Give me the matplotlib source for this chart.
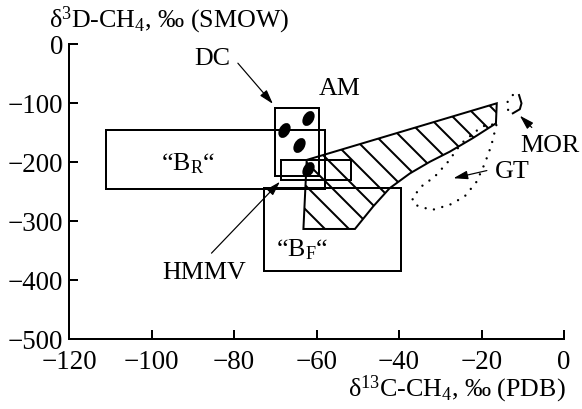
import matplotlib
matplotlib.use("Agg")
import matplotlib.pyplot as plt
from matplotlib.patches import Rectangle, Polygon
from matplotlib.markers import MarkerStyle
from matplotlib.transforms import Affine2D

plt.rcParams['font.family'] = ['Liberation Serif', 'DejaVu Serif']
plt.rcParams['mathtext.fontset'] = 'custom'
plt.rcParams['mathtext.rm'] = 'Liberation Serif'
plt.rcParams['mathtext.it'] = 'Liberation Serif:italic'
plt.rcParams['mathtext.default'] = 'regular'
plt.rcParams['hatch.linewidth'] = 1.0

# ---- data ----
x_ticks = [-120, -100, -80, -60, -40, -20, 0]
y_ticks = [-500, -400, -300, -200, -100, 0]

# boxes: (xmin, xmax, ymin, ymax)
box_BR = (-111, -58, -245, -145)
box_AM = (-70, -59.3, -224, -108)
box_BF = (-72.7, -39.6, -384, -244)
box_HMMV = (-68.6, -51.7, -230, -196)

# DC / AM measured points
pts_x = [-62.0, -67.8, -64.2, -62.1]
pts_y = [-125, -145, -171, -211]

# hatched field
field_x = [-62.4, -16.3, -16.5, -22.1, -27.7, -32.5, -37.4, -42.3, -46.3, -50.7, -63.2]
field_y = [-196, -100, -134, -159, -182, -199, -219, -244, -275, -313, -313]

# GT dotted loop
gt_x = [-16.4, -17.6, -19.2, -21.2, -24.1, -27.7, -32.1, -36.2, -36.8,
        -34.6, -31.3, -28.1, -24.9, -20.4, -18.4, -16.4]
gt_y = [-137, -171, -202, -233, -258, -272, -281, -272, -261,
        -241, -224, -199, -168, -142, -135, -137]

# MOR field
mor_dot_x = [-12.4, -13.6, -14.0, -13.2]
mor_dot_y = [-86, -96, -106, -115]
mor_sol_x = [-10.9, -10.3, -10.7, -12.4]
mor_sol_y = [-86, -100, -110, -117]

fig = plt.figure(figsize=(582 / 144, 409 / 144), dpi=144)
ax = fig.add_axes([0.119, 0.1704, 0.850, 0.7213])
ax.set_xlim(-120, 0)
ax.set_ylim(-500, 0)
ax.set_xticks(x_ticks)
ax.set_yticks(y_ticks)
for s in ['top', 'right']:
    ax.spines[s].set_visible(False)
for s in ['left', 'bottom']:
    ax.spines[s].set_linewidth(1.0)
ax.tick_params(direction='in', length=4.5, width=1.0, labelsize=13.5, pad=3)
ax.tick_params(axis='x', pad=5.5)

lw = 1.0
for (x0, x1, y0, y1) in [box_BR, box_AM, box_BF, box_HMMV]:
    ax.add_patch(Rectangle((x0, y0), x1 - x0, y1 - y0, fill=False,
                           edgecolor='black', lw=lw, clip_on=False))

ax.add_patch(Polygon(list(zip(field_x, field_y)), closed=True, facecolor='none',
                     edgecolor='black', lw=lw, hatch='\\\\'))

mk = MarkerStyle('o', transform=Affine2D().scale(1.0, 0.62).rotate_deg(60))
ax.plot(pts_x, pts_y, linestyle='none', marker=mk, markersize=7, color='black')

ax.plot(gt_x, gt_y, color='black', lw=1.2, linestyle=(0, (0.01, 3.6)),
        dash_capstyle='round')
ax.plot(mor_dot_x, mor_dot_y, color='black', lw=1.2, linestyle=(0, (0.01, 3.6)),
        dash_capstyle='round', clip_on=False)
ax.plot(mor_sol_x, mor_sol_y, color='black', lw=1.0, clip_on=False)

fs = 13
ap = dict(arrowstyle='-|>,head_length=0.6,head_width=0.18', color='black', lw=0.6,
          shrinkA=0, shrinkB=0)
ax.text(-85.2, -25, 'DC', fontsize=fs, ha='center', va='center')
ax.annotate('', xy=(-70.6, -101), xytext=(-79.1, -32), arrowprops=ap)
ax.text(-54.4, -76, 'AM', fontsize=fs, ha='center', va='center')
ax.text(-3.5, -173, 'MOR', fontsize=fs, ha='center', va='center')
ax.annotate('', xy=(-10.7, -121), xytext=(-7.8, -141), arrowprops=ap,
            annotation_clip=False)
ax.text(-12.6, -216, 'GT', fontsize=fs, ha='center', va='center')
ax.annotate('', xy=(-26.8, -227), xytext=(-18.7, -214), arrowprops=ap)
ax.text(-87.2, -387, 'HMMV', fontsize=fs, ha='center', va='center')
ax.annotate('', xy=(-68.9, -233), xytext=(-85.5, -354), arrowprops=ap)
ax.text(-91.2, -214, '\u201cB$_{R}$\u201c', fontsize=fs, ha='center', va='baseline')
ax.text(-63.5, -359, '\u201cB$_{F}$\u201c', fontsize=fs, ha='center', va='baseline')

fig.text(49 / 582, 1 - 27.3 / 409, '\u03b4$^{3}$D-CH$_{4}$, \u2030 (SMOW)',
         fontsize=fs, ha='left', va='baseline')
fig.text(566 / 582, 1 - 396.7 / 409, '\u03b4$^{13}$C-CH$_{4}$, \u2030 (PDB)',
         fontsize=fs, ha='right', va='baseline')

fig.savefig('out.png', dpi=144)
